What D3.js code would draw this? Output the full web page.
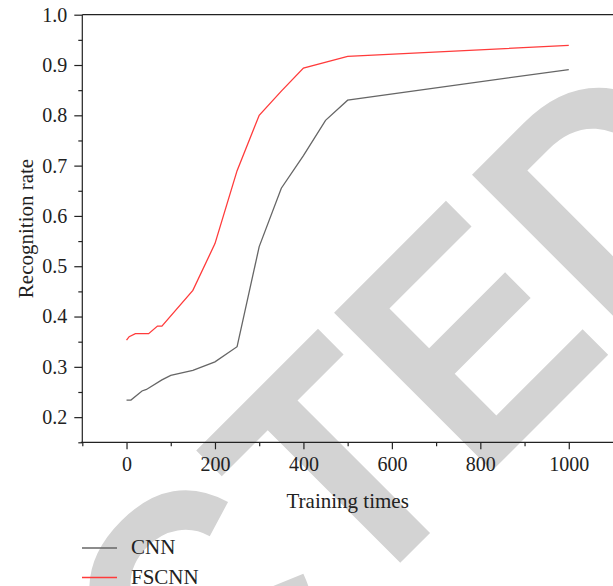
<!DOCTYPE html>
<html>
<head>
<meta charset="utf-8">
<script src="https://cdn.jsdelivr.net/npm/d3@7"></script>
<style>
  html, body { margin: 0; padding: 0; background: #fff; }
  svg { display: block; }
</style>
</head>
<body>
<div id="chart"></div>
<script>
const width = 613;
const height = 586;

// series
const cnnX = [0, 10, 35, 45, 80, 100, 150, 200, 250, 300, 350, 400, 450, 500, 1000];
const cnnY = [0.234, 0.234, 0.252, 0.255, 0.274, 0.283, 0.293, 0.31, 0.34, 0.539, 0.655, 0.72, 0.79, 0.83, 0.891];
const fscnnX = [0, 6, 20, 50, 70, 80, 150, 200, 250, 300, 350, 400, 500, 1000];
const fscnnY = [0.353, 0.36, 0.366, 0.366, 0.381, 0.381, 0.452, 0.545, 0.69, 0.80, 0.848, 0.894, 0.917, 0.939];

const xTicks = [0, 200, 400, 600, 800, 1000];
const xMinorTicks = [-100, 100, 300, 500, 700, 900];
const yTicks = [0.2, 0.3, 0.4, 0.5, 0.6, 0.7, 0.8, 0.9, 1.0];
const yMinorTicks = [0.15, 0.25, 0.35, 0.45, 0.55, 0.65, 0.75, 0.85, 0.95];

const series = [
  {name: 'CNN', xs: cnnX, ys: cnnY, color: '#666666'},
  {name: 'FSCNN', xs: fscnnX, ys: fscnnY, color: '#ff3b3b'},
];

const margin = {left: 82.3, top: 14.7, right: 0, bottom: 143.7};
const serif = '"Liberation Serif", "Times New Roman", serif';

const svg = d3.select('#chart').append('svg')
    .attr('width', width)
    .attr('height', height)
    .attr('viewBox', [0, 0, width, height]);

const x = d3.scaleLinear().domain([-100, 1100]).range([margin.left, width - margin.right]);
const y = d3.scaleLinear().domain([0.15, 1.0]).range([height - margin.bottom, margin.top]);

// watermark behind everything, anchored on the second "T"
const wm = svg.append('text')
    .attr('font-family', '"Liberation Sans", Arial, sans-serif')
    .attr('font-weight', 'bold')
    .attr('font-size', 325)
    .attr('fill', '#d3d3d3')
    .text('RETRACTED');
const tPos = wm.node().getStartPositionOfChar(6);
wm.attr('transform', `translate(352,611) rotate(-45) scale(0.9,1) translate(${-tPos.x},0)`);

// top frame line
svg.append('line')
    .attr('x1', x(-100)).attr('x2', x(1100))
    .attr('y1', y(1.0)).attr('y2', y(1.0))
    .attr('stroke', '#222').attr('stroke-width', 1.2);

// axes
const xAxis = svg.append('g')
    .attr('transform', `translate(0,${y(0.15)})`)
    .call(d3.axisBottom(x).tickValues(xTicks).tickSize(7).tickPadding(8).tickFormat(d3.format('d')));
svg.append('g')
    .attr('transform', `translate(0,${y(0.15)})`)
    .call(d3.axisBottom(x).tickValues(xMinorTicks).tickSize(4).tickFormat(''))
    .call(g => g.select('.domain').remove());

const yAxis = svg.append('g')
    .attr('transform', `translate(${x(-100)},0)`)
    .call(d3.axisLeft(y).tickValues(yTicks).tickSize(8).tickPadding(7).tickFormat(d3.format('.1f')));
svg.append('g')
    .attr('transform', `translate(${x(-100)},0)`)
    .call(d3.axisLeft(y).tickValues(yMinorTicks).tickSize(4).tickFormat(''))
    .call(g => g.select('.domain').remove());

svg.selectAll('.domain, .tick line')
    .attr('stroke', '#222')
    .attr('stroke-width', 1.2);
xAxis.select('.domain').attr('d', `M${x(-100) - 1.5},0H${x(1100)}`);
yAxis.select('.domain').attr('d', `M0,${y(0.15)}V${y(1.0)}`);

svg.selectAll('.tick text')
    .attr('font-family', serif)
    .attr('font-size', 20)
    .attr('fill', '#222');

// axis titles
svg.append('text')
    .attr('x', (x(-100) + x(1100)) / 2)
    .attr('y', 508)
    .attr('text-anchor', 'middle')
    .attr('font-family', serif)
    .attr('font-size', 21)
    .attr('fill', '#222')
    .text('Training times');

svg.append('text')
    .attr('transform', `translate(33,${(y(0.15) + y(1.0)) / 2}) rotate(-90)`)
    .attr('text-anchor', 'middle')
    .attr('font-family', serif)
    .attr('font-size', 21)
    .attr('fill', '#222')
    .text('Recognition rate');

// lines
const line = d3.line()
    .x(d => x(d[0]))
    .y(d => y(d[1]));

svg.append('g')
    .selectAll('path')
    .data(series)
    .join('path')
    .attr('fill', 'none')
    .attr('stroke', d => d.color)
    .attr('stroke-width', 1.3)
    .attr('d', d => line(d.xs.map((v, i) => [v, d.ys[i]])));

// legend below the chart
const legend = svg.append('g')
    .selectAll('g')
    .data(series)
    .join('g')
    .attr('transform', (d, i) => `translate(82,${548 + i * 29.5})`);
legend.append('line')
    .attr('x1', 0).attr('x2', 35)
    .attr('stroke', d => d.color)
    .attr('stroke-width', 1.3);
legend.append('text')
    .attr('x', 49)
    .attr('y', 6)
    .attr('font-family', serif)
    .attr('font-size', 21)
    .attr('fill', '#222')
    .text(d => d.name);
</script>
</body>
</html>
